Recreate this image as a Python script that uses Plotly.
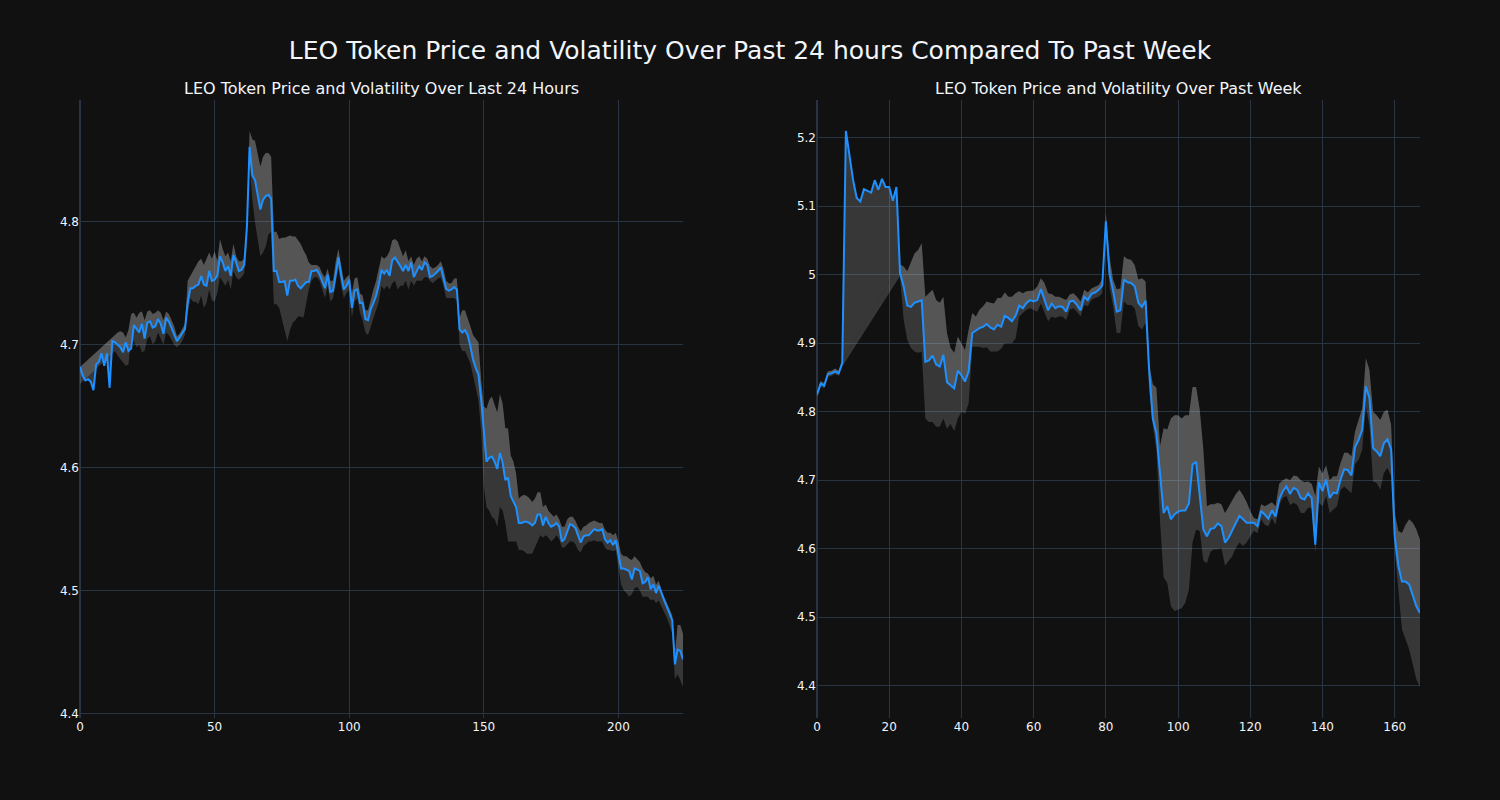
import plotly.graph_objects as go
from plotly.subplots import make_subplots

N = None

# ---- Last 24 hours ----
day_price = [
    4.682, 4.675, 4.671, 4.672, 4.670, 4.663, 4.684, 4.686, 4.693, 4.683,
    4.693, 4.665, 4.703, 4.702, 4.700, 4.698, 4.694, 4.702, 4.695, 4.697,
    4.716, 4.713, 4.710, 4.717, 4.705, 4.718, 4.719, 4.714, 4.715, 4.721,
    4.717, 4.709, 4.722, 4.719, 4.714, 4.709, 4.703, 4.706, 4.709, 4.713,
    4.734, 4.746, 4.746, 4.748, 4.749, 4.756, 4.749, 4.748, 4.760, 4.752,
    4.753, 4.756, 4.772, 4.767, 4.760, 4.764, 4.756, 4.773, 4.767, 4.760,
    4.761, 4.765, 4.796, 4.861, 4.838, 4.834, 4.822, 4.810, 4.818, 4.821,
    4.822, 4.819, 4.760, 4.760, 4.751, 4.751, 4.752, 4.740, 4.752, 4.752,
    4.753, 4.748, 4.746, 4.749, 4.751, 4.751, 4.760, 4.760, 4.761, 4.757,
    4.752, 4.746, 4.757, 4.743, 4.744, 4.759, 4.771, 4.757, 4.745, 4.748,
    4.753, 4.730, 4.744, 4.745, 4.734, 4.734, 4.721, 4.720, 4.729, 4.734,
    4.740, 4.749, 4.761, 4.758, 4.761, 4.756, 4.769, 4.771, 4.768, 4.764,
    4.760, 4.765, 4.760, 4.767, 4.755, 4.760, 4.764, 4.761, 4.767, 4.765,
    4.755, 4.756, 4.758, 4.760, 4.763, 4.753, 4.7455, 4.744, 4.745, 4.747,
    4.745, 4.7125, 4.710, 4.712, 4.708, 4.699, 4.688, 4.681, 4.676, 4.656,
    4.628, 4.605, 4.608, 4.609, 4.605, 4.599, 4.612, 4.604, 4.590, 4.592,
    4.577, 4.572, 4.568, 4.555, 4.555, 4.556, 4.556, 4.555, 4.553, 4.555,
    4.562, 4.562, 4.553, 4.560, 4.555, 4.552, 4.553, 4.555, 4.552, 4.540,
    4.542, 4.548, 4.554, 4.553, 4.551, 4.545, 4.539, 4.544, 4.545, 4.545,
    4.548, 4.550, 4.549, 4.549, 4.550, 4.542, 4.539, 4.541, 4.537, 4.541,
    4.530, 4.518, 4.518, 4.517, 4.516, 4.509, 4.518, 4.517, 4.516, 4.506,
    4.507, 4.511, 4.501, 4.505, 4.498, 4.504, 4.497, 4.492, 4.487, 4.481,
    4.476, 4.440, 4.452, 4.451, 4.444,
]
day_upper = [
    4.682, N, N, N, N, N, N, N, N, N,
    N, N, N, N, 4.710, 4.711, 4.710, 4.706, 4.712, 4.725,
    4.726, 4.722, 4.726, 4.727, 4.720, 4.727, 4.728, 4.725, 4.726, 4.728,
    4.726, 4.720, 4.727, 4.725, 4.720, 4.715, 4.707, 4.709, 4.713, 4.717,
    4.752, 4.756, 4.760, 4.763, 4.768, 4.770, 4.765, 4.770, 4.775, 4.770,
    4.776, 4.768, 4.786, 4.778, 4.772, 4.775, 4.768, 4.782, 4.772, 4.768,
    4.768, 4.770, 4.800, 4.874, 4.867, 4.866, 4.855, 4.845, 4.853, 4.856,
    4.856, 4.853, 4.792, 4.792, 4.786, 4.787, 4.787, 4.788, 4.789, 4.788,
    4.788, 4.785, 4.782, 4.777, 4.773, 4.767, 4.765, 4.765, 4.765, 4.763,
    4.758, 4.755, 4.762, 4.752, 4.752, 4.768, 4.778, 4.765, 4.752, 4.755,
    4.757, 4.742, 4.754, 4.755, 4.742, 4.740, 4.728, 4.728, 4.737, 4.745,
    4.752, 4.762, 4.772, 4.770, 4.772, 4.776, 4.785, 4.786, 4.784, 4.778,
    4.772, 4.777, 4.768, 4.772, 4.765, 4.770, 4.772, 4.768, 4.772, 4.770,
    4.764, 4.762, 4.763, 4.765, 4.768, 4.762, 4.752, 4.750, 4.750, 4.754,
    4.754, 4.722, 4.728, 4.728, 4.722, 4.715, 4.708, 4.705, 4.702, 4.672,
    4.650, 4.648, 4.655, 4.658, 4.652, 4.645, 4.660, 4.652, 4.632, 4.632,
    4.610, 4.605, 4.595, 4.575, 4.577, 4.578, 4.577, 4.575, 4.572, 4.575,
    4.580, 4.580, 4.568, 4.570, 4.565, 4.562, 4.560, 4.562, 4.558, 4.552,
    4.552, 4.558, 4.560, 4.560, 4.557, 4.552, 4.548, 4.552, 4.553, 4.555,
    4.556, 4.557, 4.556, 4.555, 4.555, 4.550, 4.547, 4.547, 4.545, 4.547,
    4.540, 4.530, 4.528, 4.528, 4.526, 4.525, 4.528, 4.525, 4.523, 4.518,
    4.515, 4.514, 4.510, 4.512, 4.505, 4.508, 4.500, 4.495, 4.490, 4.485,
    4.480, 4.448, 4.472, 4.472, 4.465,
]
day_lower = [
    4.668, N, N, N, N, N, N, N, N, N,
    N, N, N, 4.695, 4.691, 4.688, 4.685, 4.683, 4.684, 4.705,
    4.703, 4.698, 4.700, 4.694, 4.695, 4.705, 4.707, 4.700, 4.703, 4.710,
    4.705, 4.700, 4.710, 4.708, 4.704, 4.700, 4.698, 4.700, 4.703, 4.708,
    4.725, 4.738, 4.735, 4.735, 4.733, 4.740, 4.730, 4.734, 4.745, 4.736,
    4.735, 4.742, 4.755, 4.752, 4.748, 4.753, 4.745, 4.760, 4.755, 4.753,
    4.755, 4.758, 4.780, 4.848, 4.818, 4.800, 4.787, 4.772, 4.775, 4.780,
    4.790, 4.792, 4.733, 4.733, 4.730, 4.720, 4.712, 4.703, 4.712, 4.718,
    4.720, 4.723, 4.723, 4.722, 4.735, 4.745, 4.752, 4.755, 4.755, 4.752,
    4.745, 4.738, 4.748, 4.735, 4.738, 4.750, 4.762, 4.748, 4.738, 4.742,
    4.745, 4.722, 4.735, 4.738, 4.726, 4.720, 4.710, 4.708, 4.715, 4.722,
    4.728, 4.735, 4.748, 4.745, 4.748, 4.745, 4.750, 4.752, 4.745, 4.748,
    4.748, 4.752, 4.745, 4.752, 4.748, 4.752, 4.752, 4.752, 4.755, 4.755,
    4.752, 4.750, 4.752, 4.754, 4.755, 4.748, 4.738, 4.738, 4.738, 4.738,
    4.736, 4.700, 4.695, 4.695, 4.690, 4.685, 4.675, 4.665, 4.655, 4.630,
    4.585, 4.568, 4.565, 4.560, 4.558, 4.552, 4.568, 4.565, 4.555, 4.540,
    4.540, 4.540, 4.540, 4.533, 4.533, 4.532, 4.530, 4.530, 4.530, 4.535,
    4.540, 4.545, 4.543, 4.545, 4.543, 4.540, 4.542, 4.545, 4.542, 4.535,
    4.535, 4.538, 4.540, 4.540, 4.538, 4.533, 4.531, 4.536, 4.538, 4.540,
    4.540, 4.541, 4.540, 4.540, 4.540, 4.535, 4.533, 4.533, 4.532, 4.533,
    4.520, 4.505, 4.500, 4.498, 4.495, 4.497, 4.502, 4.503, 4.500, 4.495,
    4.495, 4.495, 4.492, 4.493, 4.490, 4.492, 4.487, 4.483, 4.478, 4.472,
    4.465, 4.428, 4.432, 4.427, 4.4215,
]

# ---- Past week ----
week_price = [
    4.825, 4.841, 4.838, 4.855, 4.856, 4.859, 4.856, 4.871, 5.210, 5.177,
    5.138, 5.112, 5.107, 5.125, 5.123, 5.120, 5.138, 5.124, 5.140, 5.128,
    5.128, 5.108, 5.128, 5.002, 4.983, 4.955, 4.953, 4.959, 4.961, 4.963,
    4.873, 4.875, 4.882, 4.869, 4.866, 4.883, 4.843, 4.839, 4.834, 4.860,
    4.853, 4.844, 4.859, 4.915, 4.919, 4.922, 4.924, 4.928, 4.923, 4.920,
    4.927, 4.924, 4.940, 4.937, 4.932, 4.940, 4.955, 4.951, 4.959, 4.963,
    4.961, 4.963, 4.979, 4.964, 4.948, 4.958, 4.951, 4.954, 4.953, 4.946,
    4.961, 4.962, 4.956, 4.948, 4.968, 4.963, 4.972, 4.974, 4.978, 4.984,
    5.078, 5.002, 4.977, 4.946, 4.948, 4.993, 4.989, 4.988, 4.983, 4.959,
    4.953, 4.962, 4.860, 4.790, 4.768, 4.710, 4.652, 4.662, 4.643, 4.650,
    4.654, 4.656, 4.656, 4.666, 4.723, 4.727, 4.677, 4.628, 4.618, 4.629,
    4.630, 4.637, 4.633, 4.609, 4.616, 4.626, 4.638, 4.648, 4.643, 4.638,
    4.638, 4.638, 4.633, 4.655, 4.650, 4.644, 4.656, 4.647, 4.672, 4.684,
    4.691, 4.680, 4.689, 4.686, 4.674, 4.672, 4.681, 4.674, 4.606, 4.697,
    4.684, 4.701, 4.674, 4.682, 4.681, 4.701, 4.716, 4.715, 4.707, 4.748,
    4.759, 4.774, 4.837, 4.820, 4.747, 4.742, 4.735, 4.754, 4.760, 4.745,
    4.618, 4.575, 4.552, 4.552, 4.548, 4.531, 4.516, 4.506,
]
week_upper = [
    4.829, 4.845, 4.842, 4.859, 4.860, 4.863, 4.860, 4.876, N, N,
    N, N, N, N, N, N, N, N, N, N,
    N, N, N, 5.015, 5.012, 5.005, 5.017, 5.031, 5.036, 5.046,
    4.968, 4.973, 4.978, 4.963, 4.959, 4.968, 4.915, 4.893, 4.886, 4.910,
    4.900, 4.890, 4.920, 4.944, 4.939, 4.949, 4.954, 4.961, 4.959, 4.958,
    4.966, 4.966, 4.974, 4.968, 4.968, 4.973, 4.976, 4.973, 4.976, 4.977,
    4.977, 4.983, 4.995, 4.988, 4.973, 4.972, 4.968, 4.968, 4.966, 4.963,
    4.971, 4.973, 4.968, 4.961, 4.978, 4.974, 4.980, 4.983, 4.985, 4.993,
    5.090, 5.027, 4.993, 4.979, 4.980, 5.027, 5.023, 5.022, 5.014, 4.993,
    4.995, 4.990, 4.870, 4.840, 4.835, 4.750, 4.776, 4.774, 4.790, 4.795,
    4.795, 4.790, 4.795, 4.795, 4.836, 4.836, 4.803, 4.745, 4.662, 4.665,
    4.665, 4.667, 4.665, 4.652, 4.662, 4.672, 4.680, 4.686, 4.678, 4.668,
    4.655, 4.645, 4.643, 4.665, 4.662, 4.665, 4.668, 4.662, 4.695, 4.700,
    4.703, 4.700, 4.707, 4.706, 4.700, 4.697, 4.698, 4.695, 4.677, 4.720,
    4.710, 4.722, 4.700, 4.706, 4.706, 4.725, 4.740, 4.740, 4.735, 4.771,
    4.790, 4.805, 4.878, 4.861, 4.800, 4.795, 4.788, 4.800, 4.803, 4.781,
    4.652, 4.626, 4.623, 4.635, 4.643, 4.638, 4.628, 4.613,
]
week_lower = [
    4.821, 4.837, 4.834, 4.851, 4.852, 4.855, 4.852, 4.866, N, N,
    N, N, N, N, N, N, N, N, N, N,
    N, N, N, 4.998, 4.934, 4.905, 4.893, 4.888, 4.886, 4.888,
    4.790, 4.785, 4.785, 4.778, 4.778, 4.790, 4.775, 4.782, 4.772, 4.790,
    4.800, 4.797, 4.812, 4.895, 4.895, 4.895, 4.893, 4.894, 4.888, 4.888,
    4.888, 4.892, 4.900, 4.900, 4.900, 4.907, 4.939, 4.944, 4.949, 4.951,
    4.949, 4.946, 4.958, 4.944, 4.932, 4.939, 4.937, 4.939, 4.939, 4.934,
    4.949, 4.951, 4.946, 4.939, 4.956, 4.954, 4.963, 4.966, 4.968, 4.973,
    5.061, 4.983, 4.954, 4.915, 4.915, 4.961, 4.956, 4.956, 4.951, 4.925,
    4.920, 4.930, 4.830, 4.780, 4.745, 4.640, 4.558, 4.550, 4.516, 4.509,
    4.511, 4.513, 4.521, 4.540, 4.609, 4.628, 4.626, 4.582, 4.579, 4.596,
    4.599, 4.599, 4.601, 4.575, 4.582, 4.589, 4.601, 4.609, 4.604, 4.609,
    4.618, 4.626, 4.623, 4.643, 4.635, 4.633, 4.645, 4.635, 4.664, 4.674,
    4.677, 4.664, 4.667, 4.664, 4.652, 4.652, 4.660, 4.660, 4.594, 4.667,
    4.662, 4.677, 4.652, 4.657, 4.662, 4.686, 4.691, 4.686, 4.681, 4.723,
    4.730, 4.745, 4.808, 4.779, 4.698, 4.696, 4.686, 4.711, 4.718, 4.706,
    4.599, 4.540, 4.482, 4.468, 4.453, 4.431, 4.409, 4.398,
]

TITLE = "LEO Token Price and Volatility Over Past 24 hours Compared To Past Week"
SUB1 = "LEO Token Price and Volatility Over Last 24 Hours"
SUB2 = "LEO Token Price and Volatility Over Past Week"

BAND = "rgba(200,200,200,0.21)"
LINE = "#1E90FF"
FONT = "DejaVu Sans"

fig = make_subplots(rows=1, cols=2, subplot_titles=(SUB1, SUB2))


def add_panel(price, upper, lower, col):
    x = list(range(len(price)))
    xl = [i for i, v in zip(x, lower) if v is not None]
    yl = [v for v in lower if v is not None]
    xu = [i for i, v in zip(x, upper) if v is not None]
    yu = [v for v in upper if v is not None]
    fig.add_trace(go.Scatter(x=xl, y=yl, mode="lines", line=dict(width=0),
                             hoverinfo="skip", showlegend=False), row=1, col=col)
    fig.add_trace(go.Scatter(x=xu, y=yu, mode="lines", line=dict(width=0),
                             fill="tonexty", fillcolor=BAND,
                             hoverinfo="skip", showlegend=False), row=1, col=col)
    fig.add_trace(go.Scatter(x=x, y=price, mode="lines",
                             line=dict(color=LINE, width=2),
                             fill="tonexty", fillcolor=BAND,
                             showlegend=False), row=1, col=col)


add_panel(day_price, day_upper, day_lower, 1)
add_panel(week_price, week_upper, week_lower, 2)

for ann in fig.layout.annotations:
    ann.font = dict(family=FONT, size=16, color="#f2f5fa")

fig.update_layout(
    template="plotly_dark",
    width=1500, height=800,
    font=dict(family=FONT),
    title=dict(text=TITLE, x=0.5, xanchor="center", yref="container",
               y=1 - 50 / 800, yanchor="middle",
               font=dict(family=FONT, size=25)),
    showlegend=False,
    margin=dict(l=80, r=80, t=100, b=82),
)

fig.write_html(
    "out.html",
    config={"displayModeBar": False},
    post_script="document.body.style.margin='0';document.body.style.overflow='hidden';",
)
